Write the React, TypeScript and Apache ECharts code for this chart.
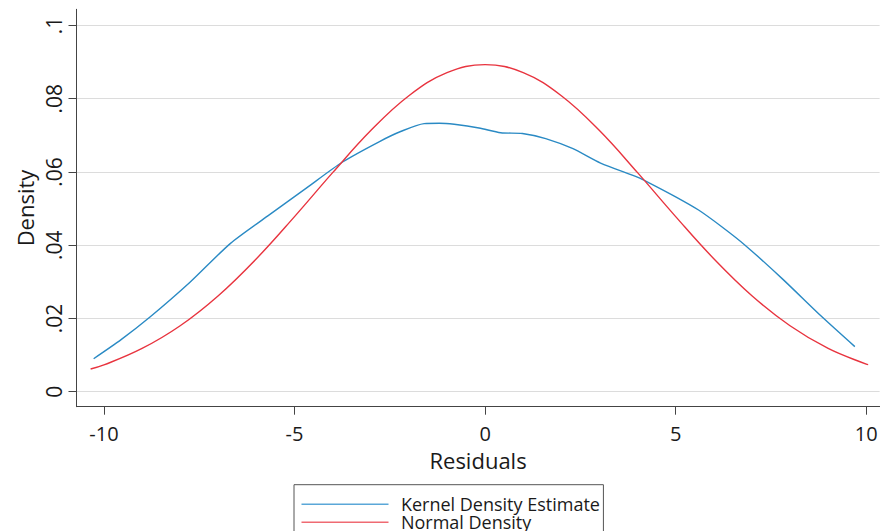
import React, { useEffect, useRef } from "react";
import * as echarts from "echarts";

// Kernel density estimate
const kdeX = [-10.27, -9.55, -8.8, -7.75, -6.68, -5.7, -4.7, -3.74, -2.77, -2.2, -1.6, -1.2, -0.81, -0.16, 0.41, 0.98, 1.59, 2.29, 3.03, 4.01, 4.29, 5.0, 5.6, 6.2, 6.82, 7.8, 8.83, 9.7];
const kdeY = [0.009, 0.0142, 0.0203, 0.0298, 0.0405, 0.048, 0.0555, 0.0627, 0.0683, 0.0711, 0.0732, 0.0733, 0.073, 0.072, 0.0707, 0.0705, 0.0691, 0.0664, 0.0624, 0.0585, 0.0571, 0.0532, 0.0496, 0.0451, 0.04, 0.0308, 0.0205, 0.0123];

// Normal density
const normX = [-10.35, -10, -9, -8, -7, -6, -5, -4, -3, -2, -1, 0, 1, 2, 3, 4, 5, 6, 7, 8, 9, 10, 10.05];
const normY = [0.0062, 0.0073, 0.0118, 0.018, 0.0262, 0.0363, 0.0478, 0.0598, 0.0713, 0.0808, 0.0871, 0.0893, 0.0871, 0.0808, 0.0713, 0.0598, 0.0478, 0.0363, 0.0262, 0.018, 0.0118, 0.0075, 0.0074];

const xTicks = [-10, -5, 0, 5, 10];
const yTicks = [0, 0.02, 0.04, 0.06, 0.08, 0.1];
const yTickLabels = ["0", ".02", ".04", ".06", ".08", ".1"];

const seriesNames = ["Kernel Density Estimate", "Normal Density"];

export default function App() {
  const ref = useRef<HTMLDivElement>(null);
  useEffect(() => {
    if (!ref.current) return;
    const chart = echarts.init(ref.current, undefined, { renderer: "svg" });
    const font = "'Open Sans', 'Noto Sans', sans-serif";
    const axisColor = "#444";
    chart.setOption({
      animation: false,
      backgroundColor: "#fff",
      grid: { left: 76.5, right: 1.4, top: 9.3, bottom: 124.3, containLabel: false },
      xAxis: {
        type: "value",
        min: -10.72,
        max: 10.35,
        name: "Residuals",
        nameLocation: "middle",
        nameGap: 38,
        nameTextStyle: { fontSize: 22, fontFamily: font, color: "#1a1a1a" },
        axisLine: { onZero: false, lineStyle: { color: axisColor, width: 1 } },
        axisTick: { show: true, length: 8, customValues: xTicks, lineStyle: { color: axisColor } },
        axisLabel: { customValues: xTicks, margin: 17, fontSize: 20, fontFamily: font, color: "#1a1a1a" },
        splitLine: { show: false },
      },
      yAxis: {
        type: "value",
        min: -0.0041,
        max: 0.1044,
        name: "Density",
        nameLocation: "middle",
        nameRotate: 90,
        nameGap: 41,
        nameTextStyle: { fontSize: 22, fontFamily: font, color: "#1a1a1a" },
        axisLine: { show: true, onZero: false, lineStyle: { color: axisColor, width: 1 } },
        axisTick: { show: true, length: 8, customValues: yTicks, lineStyle: { color: axisColor } },
        axisLabel: {
          customValues: yTicks,
          rotate: 90,
          margin: 12,
          fontSize: 21,
          fontFamily: font,
          color: "#1a1a1a",
          formatter: (v: number) => {
            const i = yTicks.findIndex((t) => Math.abs(t - v) < 1e-9);
            return i >= 0 ? yTickLabels[i] : "";
          },
        },
        splitLine: { show: true, lineStyle: { color: "#dcdcdc", width: 1 } },
      },
      legend: {
        orient: "vertical",
        left: 294,
        top: 484.7,
        height: 40,
        itemWidth: 87,
        itemHeight: 1.6,
        itemGap: 0,
        icon: "rect",
        padding: [10.5, 3.5, 10, 7.5],
        borderColor: "#555",
        borderWidth: 1,
        textStyle: { fontSize: 18, fontFamily: font, color: "#1a1a1a", lineHeight: 14.6, padding: [0, 0, 0, 7.4] },
        data: seriesNames,
      },
      series: [
        {
          name: seriesNames[0],
          type: "line",
          data: kdeX.map((x, i) => [x, kdeY[i]]),
          showSymbol: false,
          symbol: "none",
          smooth: 0.25,
          lineStyle: { color: "#2a8ac4", width: 1.4 },
          itemStyle: { color: "#5aa7d8" },
        },
        {
          name: seriesNames[1],
          type: "line",
          data: normX.map((x, i) => [x, normY[i]]),
          showSymbol: false,
          symbol: "none",
          smooth: 0.4,
          lineStyle: { color: "#e8343f", width: 1.4 },
          itemStyle: { color: "#ef6a72" },
        },
      ],
    });
    return () => chart.dispose();
  }, []);
  return <div ref={ref} style={{ width: 881, height: 531, position: "absolute", left: 0, top: 0 }} />;
}
